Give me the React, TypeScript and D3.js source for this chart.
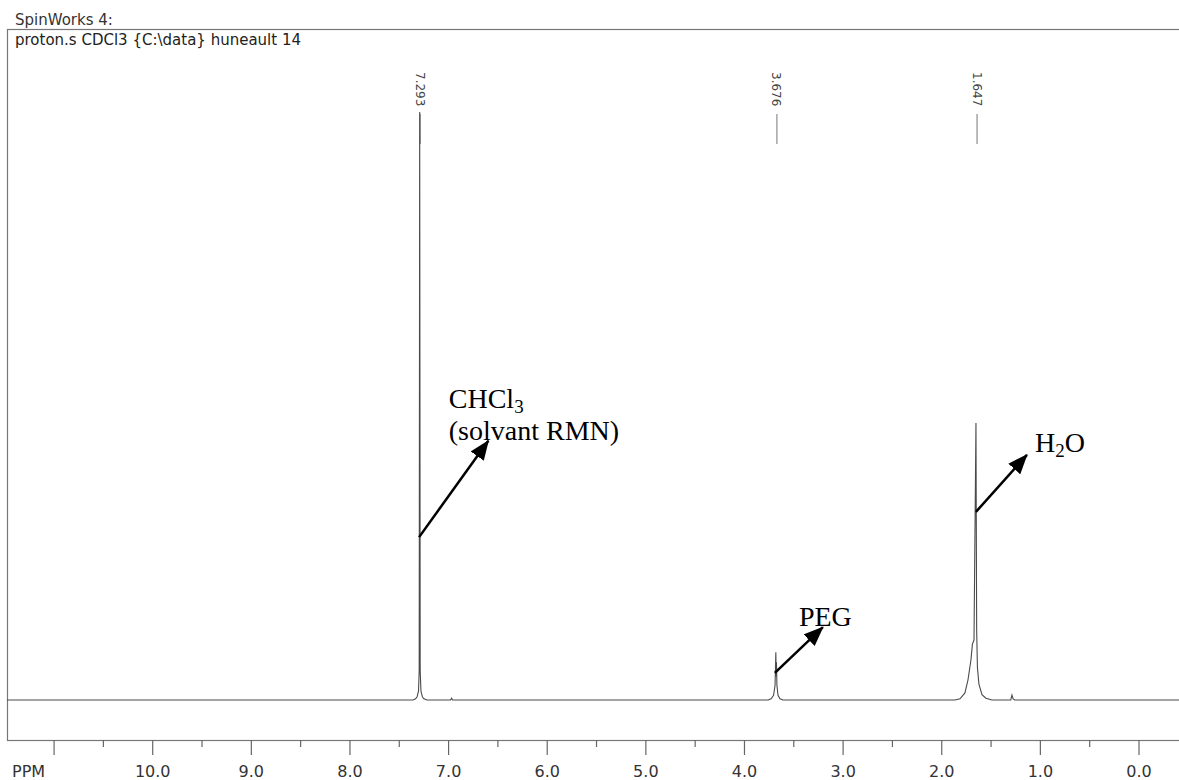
import React from 'react';
import * as d3 from 'd3';

// spectrum trace: [ppm, intensity] (CHCl3 top = 100)
const spectrum: [number, number][] = [
  [11.5, 0], [7.36, 0], [7.335, 0.2], [7.32, 0.5], [7.305, 1.5], [7.298, 5],
  [7.293, 100], [7.288, 5], [7.28, 1.5], [7.265, 0.5], [7.25, 0.2], [7.22, 0],
  [6.98, 0], [6.97, 0.3], [6.96, 0],
  [3.76, 0], [3.73, 0.2], [3.705, 0.8], [3.69, 2.5], [3.682, 8.1], [3.679, 4],
  [3.676, 6.4], [3.671, 2.5], [3.66, 0.8], [3.64, 0.2], [3.61, 0],
  [1.866, 0], [1.815, 0.2], [1.765, 1.2], [1.734, 3.4], [1.704, 6.8], [1.689, 9.5],
  [1.673, 10.2], [1.653, 47.1], [1.646, 12], [1.638, 5.5], [1.623, 2.7],
  [1.592, 0.9], [1.552, 0.3], [1.491, 0],
  [1.3, 0], [1.288, 0.85], [1.276, 0.2], [1.26, 0],
  [-0.45, 0],
];

const peakShifts = [7.293, 3.676, 1.647];
const majorTicks = [11, 10, 9, 8, 7, 6, 5, 4, 3, 2, 1, 0];
const minorTicks = [10.5, 9.5, 8.5, 7.5, 6.5, 5.5, 4.5, 3.5, 2.5, 1.5, 0.5];
const tickLabels = [10, 9, 8, 7, 6, 5, 4, 3, 2, 1, 0];

// annotation arrows, [ppm, intensity] from -> to
const arrows: { from: [number, number]; to: [number, number] }[] = [
  { from: [7.299, 27.7], to: [6.597, 44.1] },
  { from: [3.692, 4.6], to: [3.205, 12.4] },
  { from: [1.653, 32.0], to: [1.136, 41.7] },
];

const W = 1179;
const H = 780;

const App = () => {
  const box = { left: 7, top: 29, bottom: 740 };

  const x = d3.scaleLinear().domain([10, 0]).range([152.7, 1139]);
  const y = d3.scaleLinear().domain([0, 100]).range([700, 112]);

  const line = d3.line<[number, number]>()
    .x(d => x(d[0]))
    .y(d => y(d[1]));

  const uiFont = "'DejaVu Sans', Verdana, sans-serif";
  const serif = "'Liberation Serif', 'Times New Roman', serif";

  return (
    <svg width={W} height={H} style={{ position: 'absolute', left: 0, top: 0, background: '#fff' }}>
      <defs>
        <clipPath id="plot">
          <rect x={box.left} y={box.top} width={W - box.left + 10} height={box.bottom - box.top} />
        </clipPath>
        <marker id="head" viewBox="0 0 20 16" refX={19} refY={8} markerWidth={20} markerHeight={16}
          markerUnits="userSpaceOnUse" orient="auto">
          <path d="M0,0 L20,8 L0,16 Z" fill="#000" />
        </marker>
      </defs>

      <text x={15} y={25} fontFamily={uiFont} fontSize={15} fill="#333">SpinWorks 4:</text>

      <rect x={box.left + 0.5} y={box.top + 0.5} width={W} height={box.bottom - box.top}
        fill="none" stroke="#777" strokeWidth={1.2} />

      <text x={15} y={45} fontFamily={uiFont} fontSize={15} fill="#222">
        {"proton.s CDCl3 {C:\\data} huneault 14"}
      </text>

      {/* peak labels */}
      {peakShifts.map(p => (
        <g key={p}>
          <text transform={`translate(${x(p) - 4},72) rotate(90)`} fontFamily={uiFont}
            fontSize={12} fill="#444">{p.toFixed(3)}</text>
          <line x1={x(p) + 0.5} x2={x(p) + 0.5} y1={114} y2={144} stroke="#777" strokeWidth={1} />
        </g>
      ))}

      {/* spectrum */}
      <path d={line(spectrum) || ''} fill="none" stroke="#4a4a4a" strokeWidth={1.1}
        clipPath="url(#plot)" />

      {/* axis */}
      {majorTicks.map(t => (
        <line key={'M' + t} x1={x(t)} x2={x(t)} y1={box.bottom} y2={box.bottom + 15}
          stroke="#666" strokeWidth={1.2} />
      ))}
      {minorTicks.map(t => (
        <line key={'m' + t} x1={x(t)} x2={x(t)} y1={box.bottom} y2={box.bottom + 7}
          stroke="#666" strokeWidth={1.2} />
      ))}
      {tickLabels.map(t => (
        <text key={'l' + t} x={x(t)} y={777} textAnchor="middle" fontFamily={uiFont}
          fontSize={16} fill="#333">{t.toFixed(1)}</text>
      ))}
      <text x={12} y={777} fontFamily={uiFont} fontSize={16} fill="#333">PPM</text>

      {/* annotations */}
      {arrows.map((a, i) => (
        <line key={'a' + i} x1={x(a.from[0])} y1={y(a.from[1])} x2={x(a.to[0])} y2={y(a.to[1])}
          stroke="#000" strokeWidth={2.5} markerEnd="url(#head)" />
      ))}
      <text x={x(6.998)} y={y(49.7)} fontFamily={serif} fontSize={28} fill="#000">
        CHCl<tspan fontSize={19} dy={5}>3</tspan>
      </text>
      <text x={x(6.998)} y={y(44.2)} fontFamily={serif} fontSize={28} fill="#000">(solvant RMN)</text>
      <text x={x(3.448)} y={y(12.6)} fontFamily={serif} fontSize={28} fill="#000">PEG</text>
      <text x={x(1.055)} y={y(42.2)} fontFamily={serif} fontSize={28} fill="#000">
        H<tspan fontSize={19} dy={5}>2</tspan><tspan dy={-5}>O</tspan>
      </text>
    </svg>
  );
};

export default App;
